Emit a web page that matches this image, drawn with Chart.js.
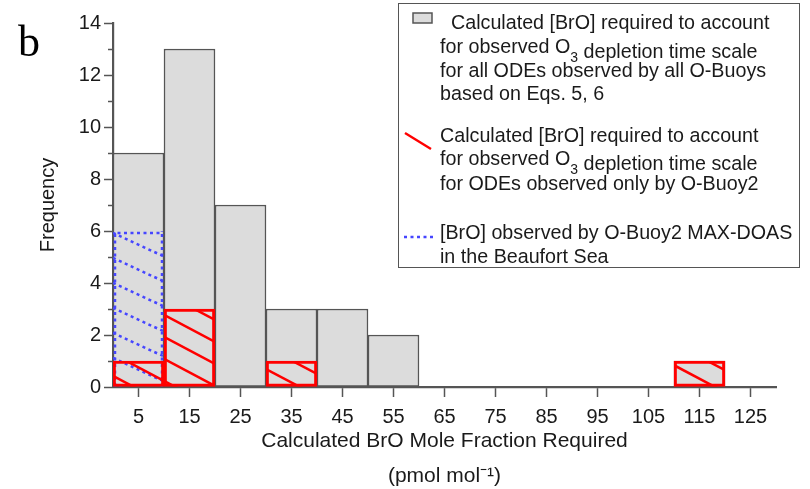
<!DOCTYPE html>
<html><head><meta charset="utf-8">
<script src="https://cdn.jsdelivr.net/npm/chart.js@4.4.1/dist/chart.umd.min.js"></script>
<style>
html,body{margin:0;padding:0;background:#fff;}
#wrap{position:relative;width:810px;height:489px;overflow:hidden;font-family:"Liberation Sans",Arial,sans-serif;color:#1a1a1a;}
#c{position:absolute;left:0;top:0;}
.panel{position:absolute;left:18px;top:20px;font-family:"Liberation Serif","Times New Roman",serif;font-size:44px;line-height:44px;color:#000;}
.lbox{position:absolute;left:398px;top:3px;width:400px;height:263px;border:1.5px solid #555;}
.ln{position:absolute;white-space:nowrap;font-size:19.7px;line-height:24px;}
.lo{position:relative;top:5px;}
.sub{font-size:14px;position:relative;top:4px;}
svg.sym{position:absolute;left:0;top:0;pointer-events:none;}
</style>
</head><body>
<div id="wrap">
<canvas id="c" width="810" height="489"></canvas>
<div class="panel">b</div>
<div class="lbox"></div>
<svg class="sym" width="810" height="489">
  <rect x="413" y="13" width="19" height="10" fill="#dcdcdc" stroke="#555" stroke-width="1.5"/>
  <line x1="405" y1="133" x2="431" y2="149" stroke="#ff0000" stroke-width="2.5"/>
  <line x1="404" y1="237" x2="433" y2="237" stroke="#4646ff" stroke-width="2.5" stroke-dasharray="3 3.5"/>
</svg>
<div class="ln" style="left:451px;top:10px;">Calculated [BrO] required to account</div>
<div class="ln" style="left:440px;top:34px;">for observed O<span class="lo"><span class="sub">3</span> depletion time scale</span></div>
<div class="ln" style="left:440px;top:58px;">for all ODEs observed by all O-Buoys</div>
<div class="ln" style="left:440px;top:81px;">based on Eqs. 5, 6</div>
<div class="ln" style="left:440px;top:123px;">Calculated [BrO] required to account</div>
<div class="ln" style="left:440px;top:146px;">for observed O<span class="lo"><span class="sub">3</span> depletion time scale</span></div>
<div class="ln" style="left:440px;top:171px;">for ODEs observed only by O-Buoy2</div>
<div class="ln" style="left:440px;top:220px;">[BrO] observed by O-Buoy2 MAX-DOAS</div>
<div class="ln" style="left:440px;top:244px;">in the Beaufort Sea</div>
</div>
<script>
// Bin centres (pmol/mol), 10-wide bins from 0 to 130
const binLabels = ['5','15','25','35','45','55','65','75','85','95','105','115','125'];
// Frequency: calculated [BrO] for all ODEs by all O-Buoys
const allBuoysCounts = [9,13,7,3,3,2,0,0,0,0,0,1,0];
// Frequency: calculated [BrO] for ODEs observed only by O-Buoy2
const buoy2Counts = [1,3,0,1,0,0,0,0,0,0,0,1,0];
// Frequency: [BrO] observed by O-Buoy2 MAX-DOAS
const maxDoasCounts = [6,0,0,0,0,0,0,0,0,0,0,0,0];
// Y axis
const yMin = 0, yMax = 14, yMajorStep = 2;
const yMinorTicks = [1,3,5,7,9,11,13];

const hatchPlugin = {
  id: 'hatch',
  afterDatasetDraw(chart, args) {
    const ds = chart.data.datasets[args.index];
    const h = ds.hatch; if (!h) return;
    const ctx = chart.ctx;
    args.meta.data.forEach((el, i) => {
      const v = ds.data[i]; if (!v) return;
      const p = el.getProps(['x','y','base','width'], true);
      const l = p.x - p.width/2, r = p.x + p.width/2;
      const t = Math.min(p.y, p.base), b = Math.max(p.y, p.base);
      ctx.save();
      ctx.beginPath(); ctx.rect(l, t, r - l, b - t); ctx.clip();
      ctx.strokeStyle = h.color; ctx.lineWidth = h.width;
      ctx.setLineDash(h.dash || []);
      const s = h.slope, d = h.spacing;
      const cMin = t - s * r, cMax = b - s * l;
      const k = Math.floor((cMin - h.phase) / d);
      for (let c = k * d + h.phase; c <= cMax + d; c += d) {
        ctx.beginPath(); ctx.moveTo(l, s * l + c); ctx.lineTo(r, s * r + c); ctx.stroke();
      }
      ctx.restore();
      if (h.outline) {
        const ins = h.outlineInset;
        ctx.save();
        ctx.strokeStyle = h.color; ctx.lineWidth = h.width;
        ctx.setLineDash(h.dash || []);
        ctx.beginPath();
        ctx.moveTo(l + ins, b); ctx.lineTo(l + ins, t + ins);
        ctx.lineTo(r - ins, t + ins); ctx.lineTo(r - ins, b);
        ctx.stroke();
        ctx.restore();
      }
    });
  }
};

const minorTickPlugin = {
  id: 'minorTicks',
  afterDraw(chart) {
    const ys = chart.scales.y, ctx = chart.ctx, L = chart.chartArea.left;
    ctx.save();
    ctx.strokeStyle = '#555'; ctx.lineWidth = 1.5;
    yMinorTicks.forEach(v => {
      const py = Math.round(ys.getPixelForValue(v)) + 0.5;
      ctx.beginPath(); ctx.moveTo(L - 5, py); ctx.lineTo(L, py); ctx.stroke();
    });
    ctx.restore();
  }
};

new Chart(document.getElementById('c'), {
  type: 'bar',
  data: {
    labels: binLabels,
    datasets: [
      {
        label: 'Calculated [BrO] for ODEs observed only by O-Buoy2',
        data: buoy2Counts,
        backgroundColor: 'rgba(0,0,0,0)',
        borderColor: '#ff0000',
        borderWidth: 2.5,
        borderSkipped: false,
        order: 1,
        hatch: {color: '#ff0000', width: 2.5, slope: 0.53, spacing: 22, phase: 8}
      },
      {
        label: '[BrO] observed by O-Buoy2 MAX-DOAS',
        data: maxDoasCounts,
        backgroundColor: 'rgba(0,0,0,0)',
        borderWidth: 0,
        order: 2,
        hatch: {color: '#4646ff', width: 2.5, slope: 0.46, spacing: 25, phase: 6, dash: [3, 3.5], outline: true, outlineInset: 2}
      },
      {
        label: 'Calculated [BrO] for all ODEs by all O-Buoys',
        data: allBuoysCounts,
        backgroundColor: '#dcdcdc',
        borderColor: '#555',
        borderWidth: 1.5,
        borderSkipped: false,
        order: 3
      }
    ]
  },
  options: {
    responsive: false,
    animation: false,
    devicePixelRatio: 1,
    layout: {padding: {left: 0, right: 34, top: 23, bottom: 0}},
    datasets: {bar: {barPercentage: 1, categoryPercentage: 1, grouped: false}},
    plugins: {legend: {display: false}, tooltip: {enabled: false}},
    scales: {
      x: {
        type: 'category',
        offset: true,
        z: 1,
        border: {display: true, color: '#555', width: 2.2},
        grid: {offset: false, drawOnChartArea: false, drawTicks: true, tickLength: 10, tickColor: '#555', tickWidth: 1.5},
        ticks: {color: '#1a1a1a', font: {family: '"Liberation Sans", Arial, sans-serif', size: 20}, padding: 8, autoSkip: false, maxRotation: 0},
        title: {
          display: true,
          text: ['Calculated BrO Mole Fraction Required', '(pmol mol\u207B\u00B9)'],
          color: '#1a1a1a',
          font: {family: '"Liberation Sans", Arial, sans-serif', size: 21, lineHeight: '35px'},
          padding: {top: 0, bottom: -5}
        },
        afterFit(scale) { scale.height = 102; }
      },
      y: {
        min: yMin, max: yMax,
        z: 1,
        border: {display: true, color: '#555', width: 2.2},
        grid: {drawOnChartArea: false, drawTicks: true, tickLength: 9, tickColor: '#555', tickWidth: 1.5},
        ticks: {stepSize: yMajorStep, color: '#1a1a1a', font: {family: '"Liberation Sans", Arial, sans-serif', size: 20}, padding: 3},
        title: {
          display: true,
          text: 'Frequency',
          color: '#1a1a1a',
          font: {family: '"Liberation Sans", Arial, sans-serif', size: 20, lineHeight: 1.2},
          padding: {top: 36, bottom: 0}
        },
        afterFit(scale) { scale.width = 113; }
      }
    }
  },
  plugins: [hatchPlugin, minorTickPlugin]
});
</script>
</body></html>
